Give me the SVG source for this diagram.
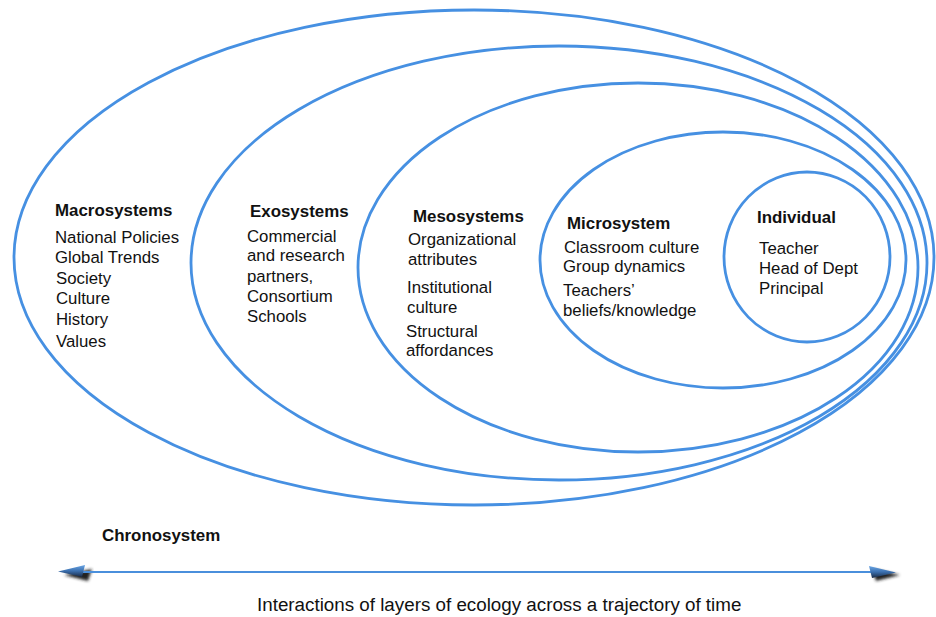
<svg xmlns="http://www.w3.org/2000/svg" width="936" height="617" viewBox="0 0 936 617">
<defs>
<style>
.ring{fill:none;stroke:#4690e2;stroke-width:2.8}
.t{font-family:"Liberation Sans",Arial,sans-serif;font-size:16.8px;fill:#111}
.h{font-family:"Liberation Sans",Arial,sans-serif;font-size:16.9px;font-weight:bold;fill:#111}
.c{font-family:"Liberation Sans",Arial,sans-serif;font-size:18.8px;fill:#111}
</style>
<filter id="blur" x="-5%" y="-200%" width="110%" height="500%"><feGaussianBlur stdDeviation="1.6"/></filter>
<linearGradient id="headL" x1="0" y1="0" x2="0" y2="1"><stop offset="0" stop-color="#6aa6e6"/><stop offset="0.5" stop-color="#3b6fae"/><stop offset="1" stop-color="#1a2a44"/></linearGradient>
</defs>
<rect width="936" height="617" fill="#fff"/>
<g id="macrosystems">
<ellipse class="ring" cx="474" cy="257.5" rx="460" ry="247.5"/>
<text class="h" x="55" y="216">Macrosystems</text>
<text class="t" x="55" y="243">National Policies</text>
<text class="t" x="55" y="263">Global Trends</text>
<text class="t" x="56" y="284">Society</text>
<text class="t" x="56" y="304">Culture</text>
<text class="t" x="56" y="325">History</text>
<text class="t" x="56" y="347">Values</text>
</g>
<g id="exosystems">
<ellipse class="ring" cx="559" cy="263" rx="368" ry="217"/>
<text class="h" x="250" y="217">Exosystems</text>
<text class="t" x="247" y="242">Commercial</text>
<text class="t" x="247" y="261">and research</text>
<text class="t" x="247" y="282">partners,</text>
<text class="t" x="247" y="302">Consortium</text>
<text class="t" x="247" y="322">Schools</text>
</g>
<g id="mesosystems">
<ellipse class="ring" cx="638" cy="267.5" rx="280" ry="184.5"/>
<text class="h" x="413" y="222">Mesosystems</text>
<text class="t" x="408" y="245">Organizational</text>
<text class="t" x="408" y="265">attributes</text>
<text class="t" x="407" y="293">Institutional</text>
<text class="t" x="407" y="313">culture</text>
<text class="t" x="406" y="337">Structural</text>
<text class="t" x="406" y="356">affordances</text>
</g>
<g id="microsystem">
<ellipse class="ring" cx="723" cy="260" rx="183" ry="128"/>
<text class="h" x="567" y="229">Microsystem</text>
<text class="t" x="564" y="253">Classroom culture</text>
<text class="t" x="563" y="272">Group dynamics</text>
<text class="t" x="563" y="296">Teachers’</text>
<text class="t" x="563" y="316">beliefs/knowledge</text>
</g>
<g id="individual">
<ellipse class="ring" cx="807" cy="257" rx="83" ry="85"/>
<text class="h" x="757" y="223">Individual</text>
<text class="t" x="759" y="254">Teacher</text>
<text class="t" x="759" y="274">Head of Dept</text>
<text class="t" x="759" y="294">Principal</text>
</g>
<g id="chronosystem">
<text class="h" x="102" y="541">Chronosystem</text>
</g>
<g id="connectors">
<line x1="70" y1="576.5" x2="885" y2="576.5" stroke="#9a9a9a" stroke-width="4" filter="url(#blur)"/>
<polygon points="64,575 92,569 88,581" fill="#222" filter="url(#blur)"/>
<polygon points="900,575 872,569 876,581" fill="#222" filter="url(#blur)"/>
<line x1="70" y1="572" x2="885" y2="572" stroke="#4a8fdc" stroke-width="2"/>
<polygon points="58,571.5 85,565 82,577" fill="url(#headL)"/>
<polygon points="896,572.5 869,566 872,578" fill="url(#headL)"/>
</g>
<text class="c" x="257" y="611">Interactions of layers of ecology across a trajectory of time</text>
</svg>
